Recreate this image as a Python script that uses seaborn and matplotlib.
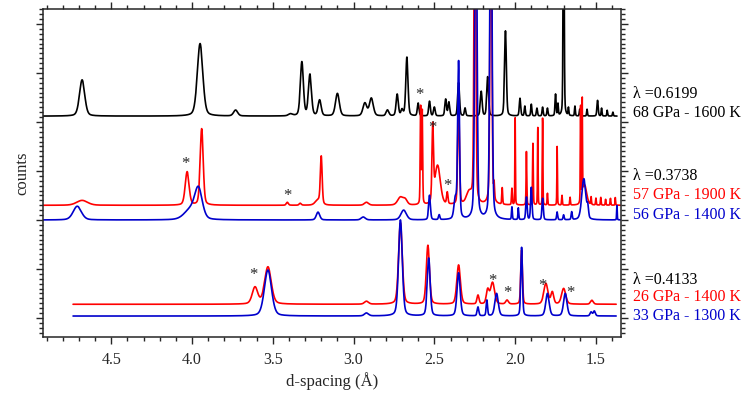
import numpy as np
import matplotlib
matplotlib.use("Agg")
import matplotlib.pyplot as plt
from matplotlib.ticker import MultipleLocator
import seaborn as sns

# peak tables (d-spacing in A, height in counts, FWHM in A)
black_d = [4.68, 3.95, 3.73, 3.39, 3.32, 3.27, 3.21, 3.10, 2.93, 2.89, 2.79, 2.73, 2.70, 2.67,
           2.60, 2.53, 2.50, 2.43, 2.41, 2.35, 2.31, 2.21, 2.17, 2.06, 1.97, 1.94, 1.90, 1.865,
           1.83, 1.80, 1.75, 1.735, 1.70, 1.67, 1.63, 1.60, 1.555, 1.49, 1.465, 1.43, 1.395]
black_h = [37, 74, 6, 2, 55, 42, 16, 23, 13, 18, 6, 22, 6, 60,
           13, 15, 9, 17, 14, 34, 8, 25, 40, 87, 18, 10, 12, 8,
           9, 8, 22, 12, 300, 8, 10, 7, 7, 16, 8, 6, 4]
black_w = [0.038, 0.04, 0.03, 0.03, 0.022, 0.022, 0.022, 0.028, 0.028, 0.028, 0.02, 0.016, 0.015, 0.016,
           0.012, 0.012, 0.012, 0.012, 0.012, 0.013, 0.01, 0.013, 0.013, 0.013, 0.01, 0.008, 0.008, 0.008,
           0.008, 0.008, 0.008, 0.006, 0.007, 0.006, 0.006, 0.006, 0.006, 0.009, 0.006, 0.006, 0.006]

red_mid_d = [4.68, 4.03, 3.94, 3.41, 3.33, 3.22, 3.20, 2.92, 2.71, 2.68, 2.585, 2.575, 2.51, 2.48,
             2.42, 2.35, 2.285, 2.249, 2.15, 2.13, 2.08, 2.02, 2.00, 1.93, 1.89, 1.86, 1.83, 1.80,
             1.74, 1.71, 1.66, 1.595, 1.585, 1.57, 1.53, 1.50, 1.47, 1.44, 1.41, 1.38]
red_mid_h = [5, 34, 78, 3, 2, 5, 48, 3, 8, 5, 100, 95, 75, 40,
             12, 110, 12, 400, 400, 15, 17, 17, 89, 55, 63, 80, 90, 12,
             60, 10, 8, 100, 100, 20, 8, 7, 8, 6, 7, 8]
red_mid_w = [0.08, 0.028, 0.022, 0.015, 0.015, 0.04, 0.013, 0.03, 0.04, 0.03, 0.006, 0.006, 0.011, 0.04,
             0.01, 0.012, 0.04, 0.012, 0.012, 0.006, 0.006, 0.006, 0.004, 0.005, 0.005, 0.004, 0.004, 0.005,
             0.004, 0.005, 0.005, 0.004, 0.004, 0.03, 0.005, 0.005, 0.005, 0.005, 0.005, 0.004]

blue_mid_d = [4.71, 4.01, 3.96, 3.22, 2.94, 2.69, 2.53, 2.47, 2.37, 2.35, 2.243, 2.15, 2.02, 1.98,
              1.93, 1.90, 1.83, 1.74, 1.70, 1.65, 1.575, 1.55, 1.37]
blue_mid_h = [14, 10, 30, 8, 3, 10, 25, 5, 20, 160, 400, 400, 13, 12,
              23, 33, 22, 8, 5, 8, 42, 10, 15]
blue_mid_w = [0.06, 0.09, 0.055, 0.025, 0.03, 0.04, 0.013, 0.01, 0.02, 0.013, 0.015, 0.015, 0.006, 0.006,
              0.01, 0.01, 0.01, 0.008, 0.008, 0.008, 0.03, 0.01, 0.004]

red_low_d = [3.61, 3.53, 2.92, 2.71, 2.54, 2.35, 2.23, 2.17, 2.14, 2.05, 1.96, 1.81, 1.77, 1.70, 1.525]
red_low_h = [17, 38, 3, 83, 60, 40, 9, 14, 22, 4, 55, 21, 12, 16, 4]
red_low_w = [0.04, 0.048, 0.03, 0.027, 0.023, 0.026, 0.015, 0.02, 0.03, 0.02, 0.012, 0.03, 0.02, 0.03, 0.02]

blue_low_d = [3.53, 2.92, 2.71, 2.535, 2.35, 2.23, 2.175, 2.115, 1.96, 1.80, 1.69, 1.53, 1.51]
blue_low_h = [47, 3, 98, 59, 44, 9, 16, 23, 70, 23, 23, 4, 5]
blue_low_w = [0.052, 0.03, 0.027, 0.021, 0.023, 0.012, 0.01, 0.025, 0.012, 0.025, 0.025, 0.015, 0.015]

# stacking offsets and d-ranges of each pattern
offsets = {"black": 206, "red_mid": 115, "blue_mid": 100, "red_low": 14, "blue_low": 2}
ranges = {"black": (4.92, 1.37), "red_mid": (4.92, 1.35), "blue_mid": (4.92, 1.35),
          "red_low": (4.736, 1.375), "blue_low": (4.736, 1.375)}

star_d = [2.59, 2.51, 4.04, 3.41, 2.42, 3.62, 2.14, 2.05, 1.83, 1.66]
star_y = [232, 198, 161, 128, 139, 48, 42, 30, 37, 30]

labels = ["\u03bb =0.6199", "68 GPa - 1600 K", "\u03bb =0.3738", "57 GPa - 1900 K",
          "56 GPa - 1400 K", "\u03bb =0.4133", "26 GPa - 1400 K", "33 GPa - 1300 K"]
label_y = [229, 209, 145, 126, 105, 39, 21, 2]

RED = "#ff0000"
BLUE = "#0000cc"
label_colors = ["black", "black", "black", RED, BLUE, "black", RED, BLUE]


def pattern(d0, d1, pos, hts, wid, base):
    x = np.linspace(d1, d0, 4000)
    y = np.full_like(x, float(base))
    for p, h, w in zip(pos, hts, wid):
        g = np.exp(-4 * np.log(2) * ((x - p) / w) ** 2)
        l = 1 / (1 + 4 * ((x - p) / w) ** 2)
        y += h * (0.7 * g + 0.3 * l)
    return x, y


sns.set_style("ticks")
plt.rcParams["font.family"] = ["Liberation Serif", "DejaVu Serif"]

fig = plt.figure(figsize=(7.43, 3.94), dpi=100)
ax = fig.add_axes([43 / 743, 57 / 394, 578 / 743, 328 / 394])

series = [("black", black_d, black_h, black_w, "black"),
          ("red_mid", red_mid_d, red_mid_h, red_mid_w, RED),
          ("blue_mid", blue_mid_d, blue_mid_h, blue_mid_w, BLUE),
          ("red_low", red_low_d, red_low_h, red_low_w, RED),
          ("blue_low", blue_low_d, blue_low_h, blue_low_w, BLUE)]
for name, pos, hts, wid, col in series:
    d0, d1 = ranges[name]
    x, y = pattern(d0, d1, pos, hts, wid, offsets[name])
    sns.lineplot(x=x, y=y, color=col, lw=1.2, ax=ax, estimator=None, sort=False)

for d, yy in zip(star_d, star_y):
    ax.text(d, yy - 4, "*", ha="center", va="center", fontsize=12)

for t, yy, c in zip(labels, label_y, label_colors):
    ax.annotate(t, xy=(1.021, yy), xycoords=("axes fraction", "data"),
                ha="left", va="center", color=c, fontsize=11.5, annotation_clip=False)

ax.set_xlim(4.922, 1.345)
ax.set_ylim(-19.4, 315.3)
ax.xaxis.set_major_locator(MultipleLocator(0.5))
ax.xaxis.set_minor_locator(MultipleLocator(0.1))
ax.yaxis.set_major_locator(MultipleLocator(50))
ax.yaxis.set_minor_locator(MultipleLocator(5))
ax.tick_params(which="both", direction="out", top=True, right=True, width=1, labelsize=11.5)
ax.tick_params(which="major", length=5, pad=6)
ax.tick_params(which="minor", length=3)
ax.tick_params(axis="y", labelleft=False)
for s in ax.spines.values():
    s.set_visible(True)
    s.set_linewidth(1.1)
ax.set_xlabel("d-spacing (\u00c5)", fontsize=12, labelpad=3)
ax.set_ylabel("counts", fontsize=12, labelpad=3)

fig.savefig("out.png", dpi=100)
